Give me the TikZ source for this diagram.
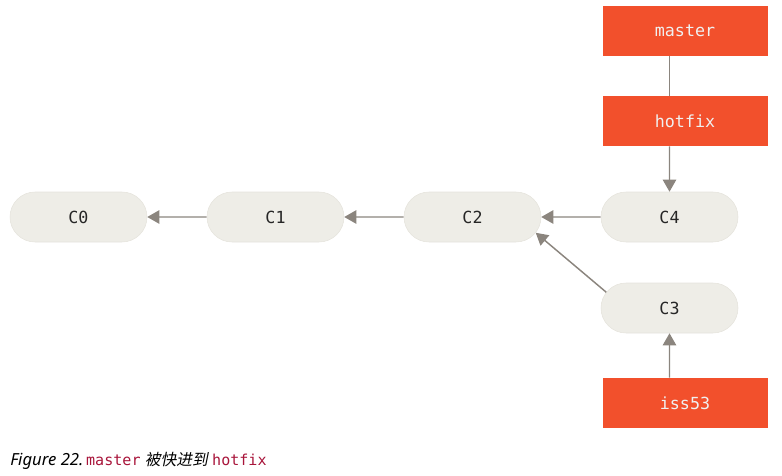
\documentclass[tikz,border=0pt]{standalone}
\usepackage{fontspec}
\setmainfont{Noto Sans}
\setmonofont{DejaVu Sans Mono}
\newfontfamily\cjk[FakeSlant=0.2]{Noto Sans CJK SC}
\usetikzlibrary{arrows.meta,shapes.misc}
\definecolor{branchred}{RGB}{242,80,44}
\definecolor{commitfill}{RGB}{238,237,231}
\definecolor{commitline}{RGB}{229,227,220}
\definecolor{arrowgray}{RGB}{139,133,126}
\definecolor{capred}{RGB}{168,20,58}
\tikzset{
  commit/.style={rounded rectangle, fill=commitfill, draw=commitline, line width=0.4pt,
    minimum width=102.75pt, minimum height=37.5pt, inner sep=0pt,
    font=\ttfamily\fontsize{12.5}{14}\selectfont, text=black!85},
  branch/.style={rectangle, fill=branchred, minimum width=123.75pt, minimum height=37.5pt,
    inner sep=0pt, font=\ttfamily\fontsize{12.5}{14}\selectfont, text=white!94!black},
  parent/.style={draw=arrowgray, line width=1.1pt, -{Triangle[width=10pt,length=9pt]}},
  link/.style={draw=arrowgray, line width=1.1pt}
}

\begin{document}
\begin{tikzpicture}[x=0.75pt, y=-0.75pt]
			%%%%% START %%%%%
			\useasboundingbox (0, 0) rectangle (782, 475);
			
			\node[commit] (c0) at (78.5, 217) {C0};
			\node[commit] (c1) at (275.5, 217) {C1};
			\node[commit] (c2) at (472.5, 217) {C2};
			\node[commit] (c4) at (669.5, 217) {C4};
			\node[commit] (c3) at (669.5, 308) {C3};
			
			\node[branch] (master) at (685, 31) {master};
			\node[branch] (hotfix) at (685, 121) {hotfix};
			\node[branch] (iss53) at (685, 403) {iss53};
			
			\draw[parent] (c1) -- (c0);
			\draw[parent] (c2) -- (c1);
			\draw[parent] (c4) -- (c2);
			\draw[parent] (c3.166) -- (c2.-14);
			
			\draw[link] (master.south -| c4) -- (hotfix.north -| c4);
			\draw[parent] (hotfix.south -| c4) -- (c4);
			\draw[parent] (iss53.north -| c3) -- (c3);
			
			\node[anchor=base west, inner sep=0pt] (caption) at (10, 465)
			{\fontsize{12.5}{14}\selectfont\itshape Figure 22.\,{\ttfamily\fontsize{11.3}{14}\selectfont\upshape\color{capred}master}
			 {\cjk\fontsize{11.8}{14}\selectfont 被快进到} {\ttfamily\fontsize{11.3}{14}\selectfont\upshape\color{capred}hotfix}};
			
			%%%%% END %%%%%
\end{tikzpicture}
\end{document}
